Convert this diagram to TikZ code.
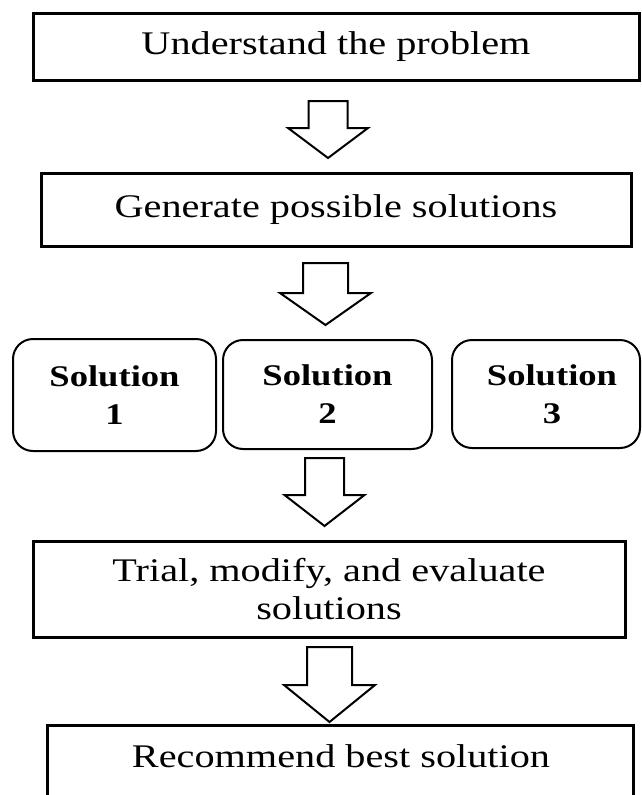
\documentclass[tikz,border=0pt]{standalone}
\usepackage{fontspec}
\setmainfont{Liberation Serif}[FakeStretch=1.22]
\newcommand\blkarrow[6]{%
  \draw[blk] (#1-#5,#2) -- (#1+#5,#2) -- (#1+#5,#3) -- (#1+#6,#3) -- (#1,#4) -- (#1-#6,#3) -- (#1-#5,#3) -- cycle;}
\begin{document}
\begin{tikzpicture}[x=1pt,y=-1pt,
  box/.style={draw=black, line width=3pt, inner sep=0pt, align=center, font=\fontsize{33}{38}\selectfont},
  solbox/.style={draw=black, line width=2pt, rounded corners=20pt, inner sep=0pt, align=center, font=\bfseries\fontsize{30}{38}\selectfont},
  txt/.style={inner sep=0pt, font=\fontsize{33}{38}\selectfont},
  blk/.style={draw=black, line width=2pt, fill=white, line join=miter}]
\clip (0,0) rectangle (642,795);
\fill[white] (0,0) rectangle (642,795);

\node[box, minimum width=606pt, minimum height=67pt] (b1) at (336,46.5) {Understand the problem};
\node[box, minimum width=590pt, minimum height=73pt] (b2) at (336,209.5) {Generate possible solutions};

\node[solbox, minimum width=203pt, minimum height=112pt] (s1) at (114.5,395) {Solution\\1};
\node[solbox, minimum width=209pt, minimum height=109pt] (s2) at (327.5,394.5) {Solution\\2};
\node[solbox, minimum width=188pt, minimum height=108pt] (s3) at (546,394) {\hspace*{12pt}Solution\\\hspace*{12pt}3};

\node[box, minimum width=592pt, minimum height=96pt] (b4) at (329,589) {Trial, modify, and evaluate\\solutions};
\node[box, minimum width=586pt, minimum height=110pt] (b5) at (340,780) {};
\node[txt, anchor=base] (t5) at (341,767) {Recommend best solution};

\blkarrow{328}{101}{128}{158}{19.5}{40}
\blkarrow{325.5}{263}{293}{325}{22.5}{45.5}
\blkarrow{324.5}{458}{495}{526}{19.5}{40}
\blkarrow{329.5}{647}{685}{722}{22.5}{45.5}
\end{tikzpicture}
\end{document}
